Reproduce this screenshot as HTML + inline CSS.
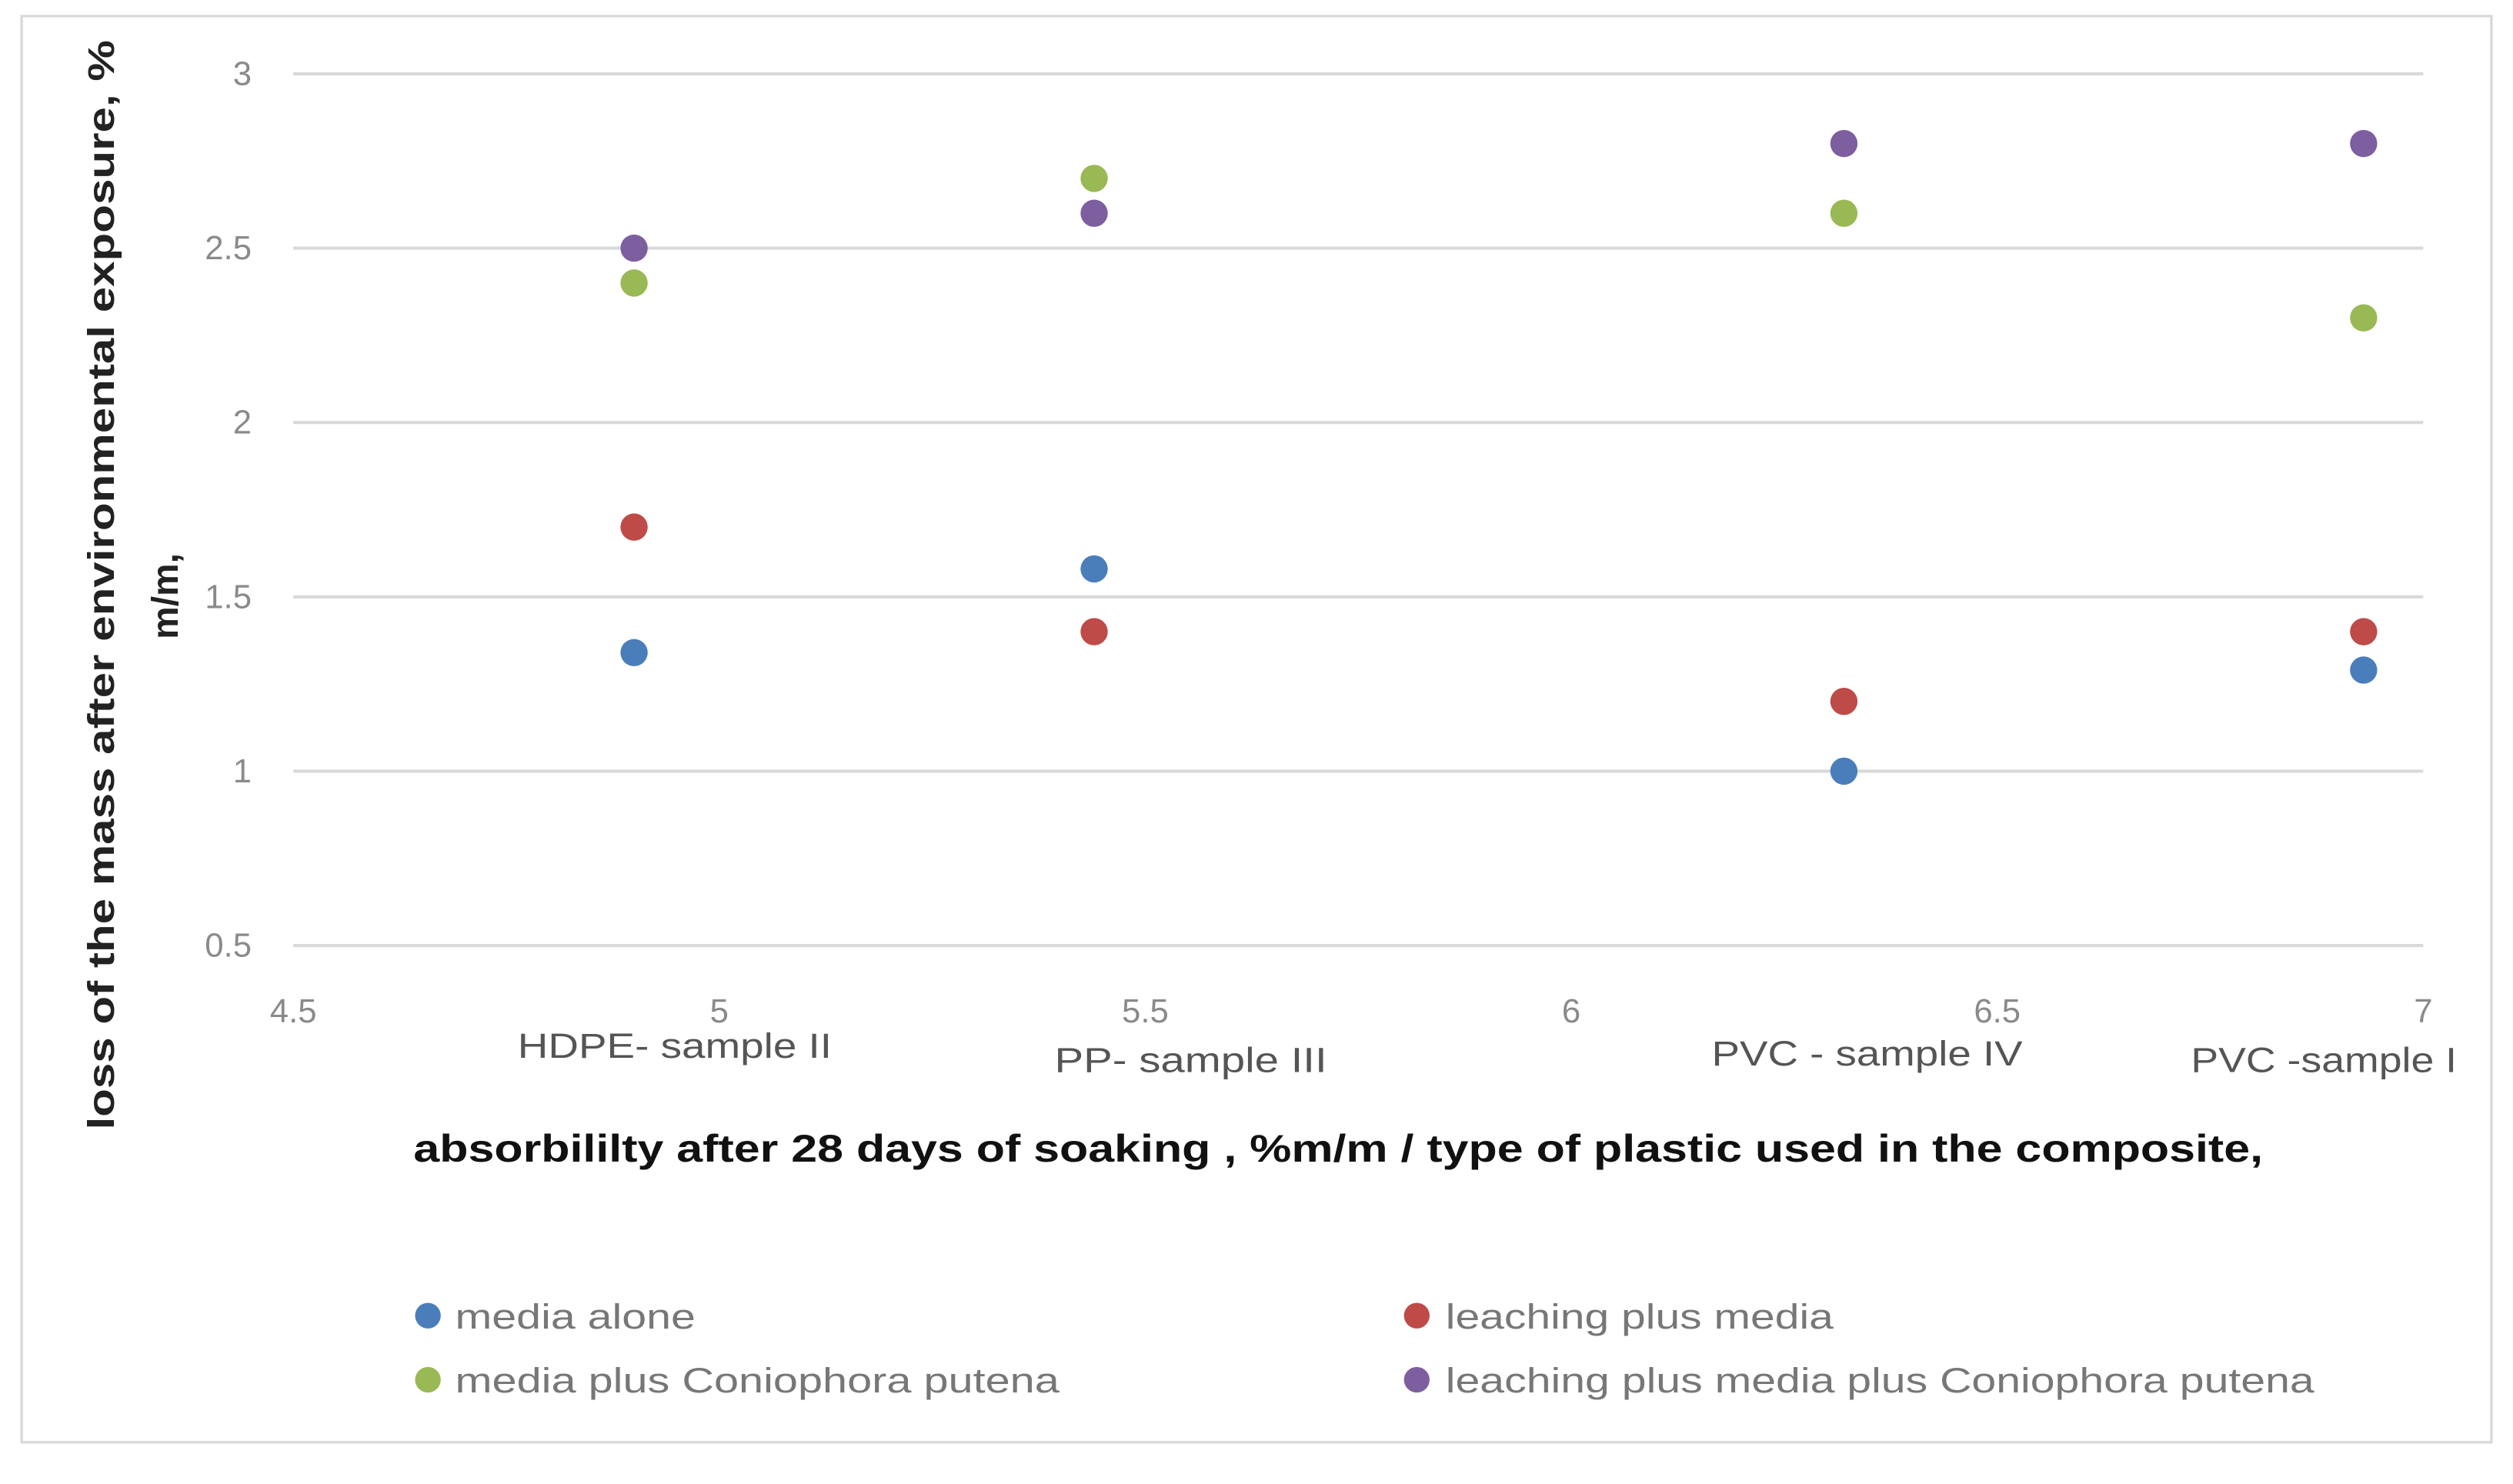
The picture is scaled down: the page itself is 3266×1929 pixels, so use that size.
<!DOCTYPE html>
<html><head><meta charset="utf-8"><style>
html,body{margin:0;padding:0;background:#fff;}
svg{display:block;}
text{font-family:"Liberation Sans",sans-serif;}
</style></head><body>
<svg id="chart" width="3266" height="1929" viewBox="0 0 1568 926" xmlns="http://www.w3.org/2000/svg">
<rect x="13.5" y="10" width="1541" height="890" fill="#fff" stroke="#d9d9d9" stroke-width="1.6"/>
<g id="grid"></g>
<g id="yticks"></g>
<g id="xticks"></g>
<g id="cats"></g>
<g id="points"></g>
<text transform="translate(71,365) rotate(-90)" text-anchor="middle" font-size="23" font-weight="bold" fill="#222" textLength="680" lengthAdjust="spacingAndGlyphs">loss of the mass after environmental exposure, %</text>
<text transform="translate(111,372) rotate(-90)" text-anchor="middle" font-size="23" font-weight="bold" fill="#222">m/m,</text>
<text x="258" y="725" font-size="24" font-weight="bold" fill="#111" textLength="1154" lengthAdjust="spacingAndGlyphs">absorbililty after 28 days of soaking , %m/m / type of plastic used in the composite,</text>
<g>
<circle cx="267" cy="821" r="8" fill="#4a7ebb"/>
<text x="284" y="829" font-size="22" fill="#777" textLength="150" lengthAdjust="spacingAndGlyphs">media alone</text>
<circle cx="884" cy="821" r="8" fill="#be4b48"/>
<text x="902" y="829" font-size="22" fill="#777" textLength="242" lengthAdjust="spacingAndGlyphs">leaching plus media</text>
<circle cx="267" cy="861" r="8" fill="#98b954"/>
<text x="284" y="869" font-size="22" fill="#777" textLength="377" lengthAdjust="spacingAndGlyphs">media plus Coniophora putena</text>
<circle cx="884" cy="861" r="8" fill="#7d5fa0"/>
<text x="902" y="869" font-size="22" fill="#777" textLength="542" lengthAdjust="spacingAndGlyphs">leaching plus media plus Coniophora putena</text>
</g>
</svg>
<script>
const xTickValues = [4.5, 5, 5.5, 6, 6.5, 7];
const yTickValues = [0.5, 1, 1.5, 2, 2.5, 3];
const yTickLabels = ["0.5", "1", "1.5", "2", "2.5", "3"];
const categories = ["HDPE- sample II", "PP- sample III", "PVC - sample IV", "PVC -sample I"];
const xValues = [4.90, 5.44, 6.32, 6.93];
const mediaAlone = [1.34, 1.58, 1.00, 1.29];
const leachingPlusMedia = [1.70, 1.40, 1.20, 1.40];
const mediaPlusConiophora = [2.40, 2.70, 2.60, 2.30];
const leachingMediaConiophora = [2.50, 2.60, 2.80, 2.80];

const NS = "http://www.w3.org/2000/svg";
const X0 = 183, X1 = 1512, Y0 = 590, Y1 = 46;
function xs(v){ return X0 + (v - 4.5) / 2.5 * (X1 - X0); }
function ys(v){ return Y0 - (v - 0.5) / 2.5 * (Y0 - Y1); }
function mk(tag, attrs, parent){ const e = document.createElementNS(NS, tag); for (const k in attrs) e.setAttribute(k, attrs[k]); parent.appendChild(e); return e; }

const grid = document.getElementById('grid');
const yt = document.getElementById('yticks');
yTickValues.forEach((v, i) => {
  const l = mk('line', {x1: X0, x2: X1, y1: ys(v), y2: ys(v), stroke: '#d9d9d9', 'stroke-width': 2}, grid);
  
  
  const t = mk('text', {x: 157, y: ys(v) + 7, 'text-anchor': 'end', 'font-size': 21, fill: '#8a8a8a'}, yt);
  
  
  t.textContent = yTickLabels[i];
});
const xt = document.getElementById('xticks');
xTickValues.forEach(v => {
  const t = mk('text', {x: xs(v), y: 638, 'text-anchor': 'middle', 'font-size': 21, fill: '#8a8a8a'}, xt);
  
  
  t.textContent = String(v);
});
const catPos = [[421, 660, 196], [743, 669, 170], [1165, 665, 194], [1450, 669, 166]];
const cg = document.getElementById('cats');
categories.forEach((c, i) => {
  const t = mk('text', {x: catPos[i][0], y: catPos[i][1], 'text-anchor': 'middle', 'font-size': 22, fill: '#555', textLength: catPos[i][2], lengthAdjust: 'spacingAndGlyphs'}, cg);
  
  
  t.textContent = c;
});
const pg = document.getElementById('points');
const series = [[mediaAlone, '#4a7ebb', 'media-alone'], [leachingPlusMedia, '#be4b48', 'leaching-plus-media'], [mediaPlusConiophora, '#98b954', 'media-plus-coniophora'], [leachingMediaConiophora, '#7d5fa0', 'leaching-media-coniophora']];
series.forEach(s => {
  s[0].forEach((v, i) => {
    const c = mk('circle', {cx: xs(xValues[i]), cy: ys(v), r: 8.5, fill: s[1]}, pg);
    
    
  });
});
</script>
</body></html>
